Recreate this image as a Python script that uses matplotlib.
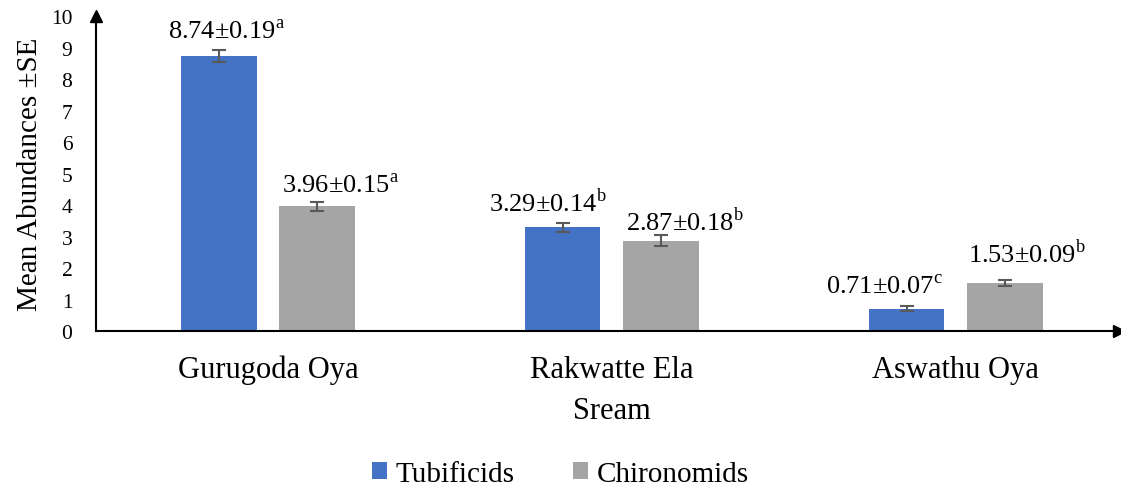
import matplotlib.pyplot as plt
import numpy as np

plt.rcParams['font.family'] = ['Liberation Serif', 'DejaVu Serif']
plt.rcParams['mathtext.fontset'] = 'custom'
plt.rcParams['mathtext.rm'] = 'Liberation Serif'

streams = ['Gurugoda Oya', 'Rakwatte Ela', 'Aswathu Oya']
tubificids = [8.74, 3.29, 0.71]
tubificids_se = [0.19, 0.14, 0.07]
tubificids_sig = ['a', 'b', 'c']
chironomids = [3.96, 2.87, 1.53]
chironomids_se = [0.15, 0.18, 0.09]
chironomids_sig = ['a', 'b', 'b']

blue = '#4472c4'
grey = '#a5a5a5'

fig = plt.figure(figsize=(11.21, 4.89), dpi=100)
ax = fig.add_axes([0.0856, 0.321, 0.9204, 0.644])

x = np.arange(len(streams))
w = 0.22
off = 0.143

err = dict(ecolor='#595959', capsize=5, elinewidth=1.5, capthick=1.5)
ax.bar(x - off, tubificids, w, color=blue, label='Tubificids',
       yerr=tubificids_se, error_kw=err)
ax.bar(x + off, chironomids, w, color=grey, label='Chironomids',
       yerr=chironomids_se, error_kw=err)

# value labels sit above each bar, nudged sideways so neighbours don't collide
def label(xs, vals, ses, sigs, nudges, lifts):
    for xi, v, s, g, dx, dy in zip(xs, vals, ses, sigs, nudges, lifts):
        ax.annotate(f'{v:.2f}\u00b1{s:.2f}$^{{\\mathrm{{{g}}}}}$', (xi, v),
                    xytext=(dx, dy), textcoords='offset pixels',
                    ha='center', va='center', fontsize=19)

label(x - off, tubificids, tubificids_se, tubificids_sig, [8, -15, -22], [24, 26, 22])
label(x + off, chironomids, chironomids_se, chironomids_sig, [23, 24, 22], [21, 20, 30])

ax.set_xlim(-0.5, 2.5)
ax.set_ylim(0, 10)
ax.set_yticks(range(0, 11))
ax.set_xticks(x)
ax.set_xticklabels(streams, fontsize=22)
ax.tick_params(axis='x', length=0, pad=17)
ax.tick_params(axis='y', length=0, labelsize=15.5, pad=17)
for sp in ['top', 'right']:
    ax.spines[sp].set_visible(False)
ax.spines['left'].set_linewidth(1.5)
ax.spines['bottom'].set_linewidth(1.5)
ax.plot(0, 1, '^', color='black', markersize=9, transform=ax.transAxes, clip_on=False)
ax.plot(0.992, 0, '>', color='black', markersize=9, transform=ax.transAxes, clip_on=False)

ax.set_ylabel('Mean Abundances \u00b1SE', fontsize=21, labelpad=6)
ax.set_xlabel('Sream', fontsize=22, labelpad=8.5)

fig.legend(loc='center', ncol=2, frameon=False, fontsize=21,
           bbox_to_anchor=(0.5, 1 - 475 / 489), handlelength=0.5, handleheight=0.5,
           columnspacing=2.0, handletextpad=0.3, borderaxespad=0)

fig.savefig('out.png', dpi=100)
